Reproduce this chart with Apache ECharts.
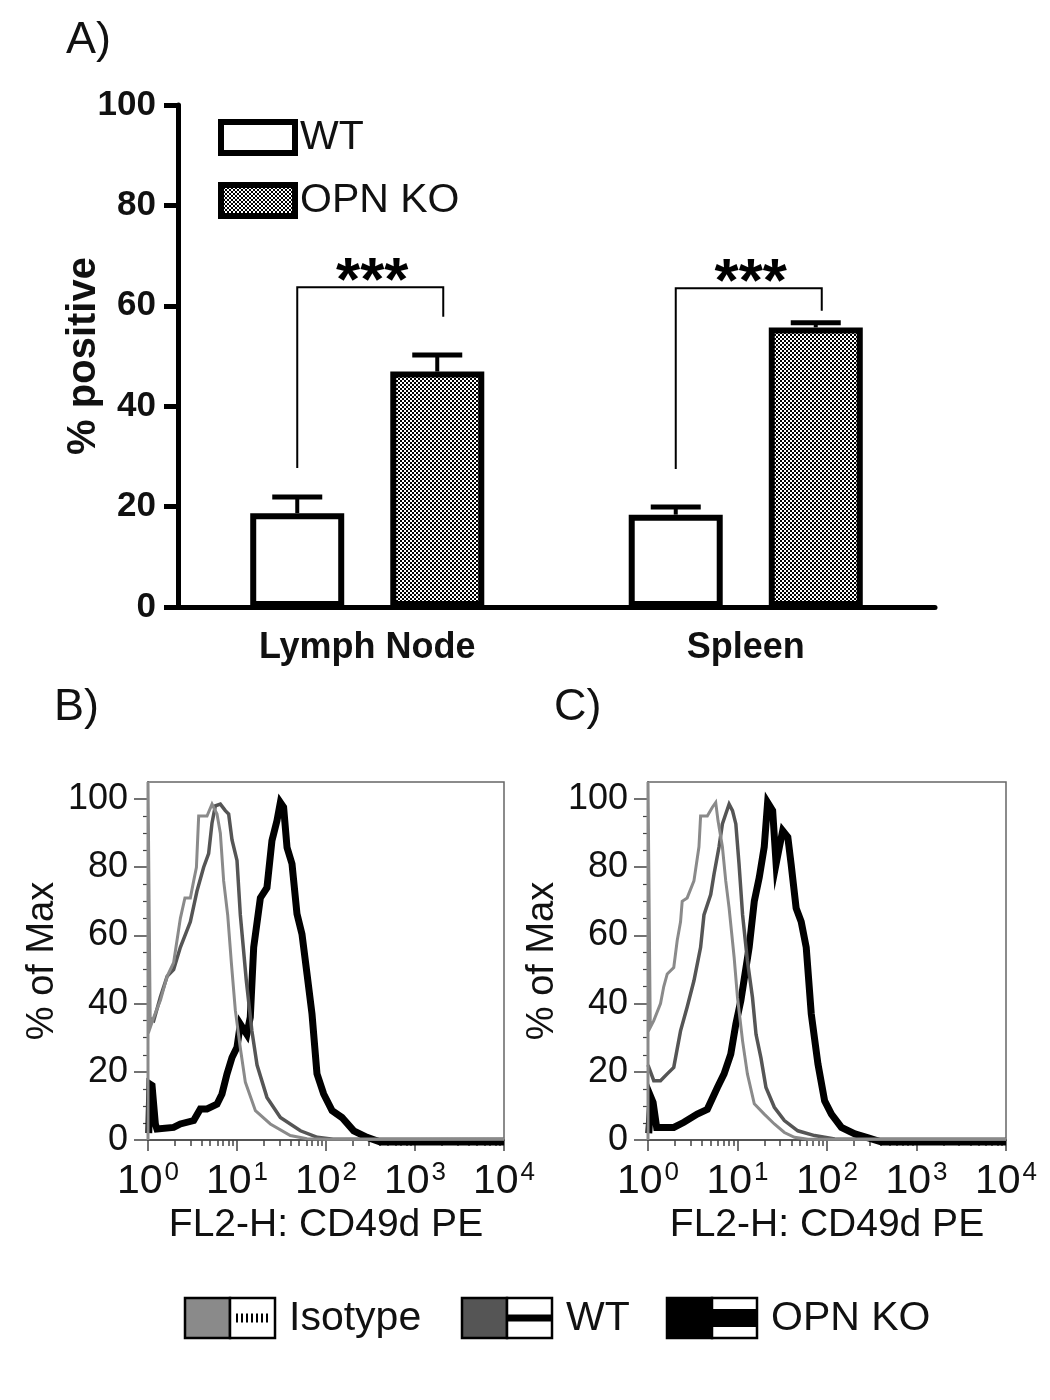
<!DOCTYPE html>
<html><head><meta charset="utf-8">
<script src="https://cdn.jsdelivr.net/npm/echarts@6/dist/echarts.min.js"></script>
<style>html,body{margin:0;padding:0;background:#fff}#c{width:1050px;height:1400px}</style>
</head><body><div id="c"></div>
<script>
// ---------- Panel A data ----------
const categories = ['Lymph Node', 'Spleen'];
const wtMean = [18.7, 18.4];
const wtErr = [3.2, 1.5];
const koMean = [46.9, 55.7];
const koErr = [3.3, 0.9];
const bracketLeftFoot = [27.7, 27.5];
const bracketTop = [63.7, 63.5];
const bracketRightFoot = [57.8, 59.0];
const sigLabels = ['***', '***'];
const barYTicks = [0, 20, 40, 60, 80, 100];

// ---------- Panels B / C data: [FL2-H intensity, % of Max] ----------
const histYLabels = [0, 20, 40, 60, 80, 100];
const histYMinor = [5, 10, 15, 25, 30, 35, 45, 50, 55, 65, 70, 75, 85, 90, 95];
const histDecades = [0, 1, 2, 3, 4];
const minorFactors = [2, 3, 4, 5, 6, 7, 8, 9];

const isoB = [[1,0],[1,105],[1.04,105],[1.06,33],[1.16,36],[1.38,41],[1.64,48],[1.94,52],[2.31,65],[2.6,71],[2.99,71],[3.26,76],[3.5,80],[3.71,95],[4.6,95],[5.24,98.5],[5.6,97],[5.96,95.6],[6.5,90],[7.08,76],[7.86,66],[8.64,52],[9.58,38],[10.9,27],[12.4,17],[16.1,8.6],[23.7,4.7],[39.7,1.3],[61.2,0.4],[100,0.2],[1000,0.2],[10000,0.3]];
const wtB = [[1,36],[1.16,35],[1.38,42],[1.64,48],[1.94,50],[2.31,56.5],[2.99,64],[3.55,73],[4.22,80],[4.8,84],[5.24,93],[5.71,98],[6.5,98.5],[7.39,96.6],[8.06,95.6],[8.79,88],[10.0,82],[10.9,66],[12.7,47],[14.7,32],[16.8,22],[21.7,12.5],[30.7,6.6],[51.6,2.7],[80,0.8],[120,0.2],[10000,0.2]];
const koB = [[1.02,2],[1.05,16.4],[1.11,16],[1.21,4.7],[1.26,3.2],[1.94,3.7],[2.31,4.7],[3.26,5.7],[3.87,9.1],[4.6,9.1],[5.96,10.5],[6.78,13.5],[7.72,19.4],[8.79,24.2],[10.0,27.2],[10.9,34],[12.9,31],[14.1,36],[15.4,56.5],[18.3,71],[21.7,74],[24.7,87.8],[28.1,93.6],[30.7,99],[33.4,97.6],[36.5,85.8],[41.5,81],[47.2,66.3],[53.7,60.4],[61.2,48.7],[69.6,37],[79.2,19.4],[94.1,13.5],[117,8.6],[151,6.6],[205,2.7],[289,0.8],[408,-0.6],[10000,-0.6]];

const isoC = [[1,0],[1,105],[1.04,105],[1.06,33],[1.16,35],[1.38,40],[1.5,45],[1.64,48.7],[1.94,50.6],[2.12,58.5],[2.31,64],[2.41,70],[2.74,71],[3.26,76],[3.71,86],[3.87,95],[4.6,95],[5.24,97.6],[5.71,99],[6.06,93.6],[6.78,86],[7.39,76],[8.06,68],[9.17,53.6],[10.0,41.8],[11.4,29],[12.9,19.4],[15.4,10.6],[19.9,7.6],[25.8,4.7],[33.4,2.2],[43.3,0.8],[61.2,0.2],[10000,0.2]];
const wtC = [[1,22],[1.16,17.4],[1.38,17.4],[1.64,19.4],[1.94,21.3],[2.31,32],[2.74,39],[3.26,46.7],[3.87,56.5],[4.22,66],[5.02,72],[5.47,78],[6.22,86],[6.78,92.7],[7.39,95.6],[8.06,98.5],[8.79,96.6],[9.58,92.7],[10.4,81],[11.4,66],[12.9,52.6],[14.7,41.8],[16.1,31],[18.3,24],[20.8,15.4],[25.8,9.6],[33.4,5.7],[47.2,2.7],[72.7,1.3],[122,0.3],[10000,0.2]];
const koC = [[1.02,2],[1.08,12.5],[1.14,11],[1.25,3.7],[1.94,3.7],[2.52,5.2],[3.55,7.6],[4.6,9],[5.96,15.4],[7.08,19.4],[8.41,25.2],[9.58,34],[10.9,40.9],[13.5,56.5],[15.4,70],[17.5,77],[19.9,86],[21.7,99],[24.7,96.6],[27.0,81],[29.4,86],[32.0,90.7],[36.5,88.8],[39.7,81],[45.2,68],[51.5,64],[58.6,56.5],[66.7,37],[79.2,22.3],[94.1,11.5],[112,7.6],[145,3.7],[205,1.8],[289,0.6],[408,-0.6],[10000,-0.6]];

const histLegend = ['Isotype', 'WT', 'OPN KO'];

// ---------- helpers ----------
const FONT = '"Liberation Sans", Arial, Helvetica, sans-serif';
const toLog = d => d.map(p => [Math.log10(p[0]), p[1]]);
const minorLogTicks = [];
[0, 1, 2, 3].forEach(k => minorFactors.forEach(f => minorLogTicks.push(Math.log10(f) + k)));

const pc = document.createElement('canvas');
pc.width = 4; pc.height = 4;
const g = pc.getContext('2d');
g.fillStyle = '#fff'; g.fillRect(0, 0, 4, 4);
g.fillStyle = '#000'; g.fillRect(0, 0, 2, 2); g.fillRect(2, 2, 2, 2);
const checker = { image: pc, repeat: 'repeat' };

const BAR_OFF = 70;

function errRender(offset) {
  return function (params, api) {
    const c = api.value(0), m = api.value(1), e = api.value(2);
    const p0 = api.coord([c, m]);
    const p1 = api.coord([c, m + e]);
    const x = p0[0] + offset;
    return { type: 'group', children: [
      { type: 'line', shape: { x1: x, y1: p0[1], x2: x, y2: p1[1] }, style: { stroke: '#000', lineWidth: 4 } },
      { type: 'line', shape: { x1: x - 25, y1: p1[1], x2: x + 25, y2: p1[1] }, style: { stroke: '#000', lineWidth: 5 } }
    ] };
  };
}

function bracketRender(params, api) {
  const c = api.value(0);
  const pl = api.coord([c, api.value(1)]);
  const pt = api.coord([c, api.value(2)]);
  const pr = api.coord([c, api.value(3)]);
  const xl = pl[0] - BAR_OFF, xr = pl[0] + BAR_OFF + 6;
  return { type: 'group', children: [
    { type: 'polyline', shape: { points: [[xl, pl[1]], [xl, pt[1]], [xr, pt[1]], [xr, pr[1]]] },
      style: { stroke: '#000', lineWidth: 2, fill: null } },
    { type: 'text', style: { text: sigLabels[params.dataIndex], x: (xl + xr) / 2 + 2, y: pt[1] - 4,
      align: 'center', verticalAlign: 'middle', font: 'bold 62px ' + FONT, fill: '#000' } }
  ] };
}

function histX(gridIndex, major) {
  if (major) {
    return {
      type: 'value', gridIndex, min: 0, max: 4, interval: 1, position: 'bottom',
      axisLine: { show: true, onZero: false, lineStyle: { color: '#444', width: 1.5 } },
      axisTick: { show: true, customValues: histDecades, length: 11, lineStyle: { color: '#444', width: 1.5 } },
      axisLabel: {
        customValues: histDecades, margin: 20, color: '#111',
        formatter: v => '{b|10}{s|' + v + '}',
        rich: {
          b: { fontSize: 41, fontFamily: FONT, color: '#111', lineHeight: 44 },
          s: { fontSize: 26, fontFamily: FONT, color: '#111', verticalAlign: 'top', lineHeight: 26, padding: [0, 0, 0, 2] }
        }
      },
      splitLine: { show: false },
      name: 'FL2-H: CD49d PE', nameLocation: 'middle', nameGap: 66,
      nameTextStyle: { fontSize: 39, fontFamily: FONT, color: '#111' }
    };
  }
  return {
    type: 'value', gridIndex, min: 0, max: 4, interval: 1, position: 'bottom',
    axisLine: { show: false }, axisLabel: { show: false }, splitLine: { show: false },
    axisTick: { show: true, customValues: minorLogTicks, length: 6, lineStyle: { color: '#444', width: 1.5 } }
  };
}
function histY(gridIndex, major) {
  if (major) {
    return {
      type: 'value', gridIndex, min: 0, max: 105, position: 'left',
      axisLine: { show: true, onZero: false, lineStyle: { color: '#444', width: 1.5 } },
      axisTick: { show: true, customValues: histYLabels, length: 14, lineStyle: { color: '#444', width: 1.5 } },
      axisLabel: { customValues: histYLabels, fontSize: 36, fontFamily: FONT, color: '#111', margin: 20 },
      splitLine: { show: false },
      name: '% of Max', nameLocation: 'middle', nameRotate: 90, nameGap: 86,
      nameTextStyle: { fontSize: 38, fontFamily: FONT, color: '#111' }
    };
  }
  return {
    type: 'value', gridIndex, min: 0, max: 105, position: 'left',
    axisLine: { show: false }, axisLabel: { show: false }, splitLine: { show: false },
    axisTick: { show: true, customValues: histYMinor, length: 5, lineStyle: { color: '#444', width: 1.2 } }
  };
}
function histLine(name, data, xi, yi, color, width, z) {
  return {
    type: 'line', name, data: toLog(data), xAxisIndex: xi, yAxisIndex: yi,
    showSymbol: false, symbol: 'none', clip: false, z,
    lineStyle: { color, width, join: 'miter' }, silent: true
  };
}

// bottom legend graphic
const legendGraphics = [];
const legX = [185, 462, 667];
const legFill = ['#8a8a8a', '#555555', '#000000'];
histLegend.forEach((name, i) => {
  const x0 = legX[i], y0 = 1298;
  legendGraphics.push({ type: 'rect', shape: { x: x0, y: y0, width: 45, height: 40 }, style: { fill: legFill[i], stroke: '#000', lineWidth: 2.5 } });
  legendGraphics.push({ type: 'rect', shape: { x: x0 + 45, y: y0, width: 45, height: 40 }, style: { fill: '#fff', stroke: '#000', lineWidth: 2.5 } });
  if (i === 0) {
    legendGraphics.push({ type: 'line', shape: { x1: x0 + 51, y1: y0 + 20, x2: x0 + 85, y2: y0 + 20 }, style: { stroke: '#000', lineWidth: 9, lineDash: [2, 3] } });
  } else {
    const h = i === 1 ? 7 : 18;
    legendGraphics.push({ type: 'rect', shape: { x: x0 + 45, y: y0 + 20 - h / 2, width: 45, height: h }, style: { fill: '#000' } });
  }
  legendGraphics.push({ type: 'text', style: { text: name, x: x0 + 104, y: y0 + 21, verticalAlign: 'middle', font: '41px ' + FONT, fill: '#111' } });
});

const chart = echarts.init(document.getElementById('c'), null, { renderer: 'canvas' });
chart.setOption({
  animation: false,
  backgroundColor: '#fff',
  title: [
    { text: 'A)', left: 66, top: 18, padding: 0, textStyle: { fontSize: 45, fontWeight: 'normal', color: '#111', fontFamily: FONT } },
    { text: 'B)', left: 54, top: 685, padding: 0, textStyle: { fontSize: 45, fontWeight: 'normal', color: '#111', fontFamily: FONT } },
    { text: 'C)', left: 554, top: 685, padding: 0, textStyle: { fontSize: 45, fontWeight: 'normal', color: '#111', fontFamily: FONT } }
  ],
  legend: {
    data: ['WT', 'OPN KO'], orient: 'vertical', left: 218, top: 117, padding: 0,
    itemWidth: 74, itemHeight: 31, itemGap: 22, icon: 'rect',
    itemStyle: { borderWidth: 6, borderColor: '#000' },
    textStyle: { fontSize: 41, fontFamily: FONT, color: '#111', lineHeight: 40 },
    selectedMode: false
  },
  grid: [
    { left: 178, top: 105, width: 757, height: 502 },
    { left: 148, top: 782, width: 356, height: 358, show: true, borderColor: '#666', borderWidth: 1.5, backgroundColor: 'transparent' },
    { left: 648, top: 782, width: 358, height: 358, show: true, borderColor: '#666', borderWidth: 1.5, backgroundColor: 'transparent' }
  ],
  xAxis: [
    {
      type: 'category', gridIndex: 0, data: categories,
      axisLine: { lineStyle: { color: '#000', width: 5 } },
      axisTick: { alignWithLabel: true, length: 12, lineStyle: { color: '#000', width: 5 } },
      axisLabel: { fontSize: 36, fontWeight: 'bold', fontFamily: FONT, color: '#111', margin: 23 }
    },
    histX(1, true), histX(1, false), histX(2, true), histX(2, false)
  ],
  yAxis: [
    {
      type: 'value', gridIndex: 0, min: 0, max: 100, interval: 20,
      axisLine: { show: true, lineStyle: { color: '#000', width: 5 } },
      axisTick: { show: true, length: 14, lineStyle: { color: '#000', width: 5 } },
      axisLabel: { fontSize: 35, fontWeight: 'bold', fontFamily: FONT, color: '#111', margin: 22 },
      splitLine: { show: false },
      name: '% positive', nameLocation: 'middle', nameRotate: 90, nameGap: 74, nameMoveOverlap: false,
      nameTextStyle: { fontSize: 40, fontWeight: 'bold', fontFamily: FONT, color: '#111' }
    },
    histY(1, true), histY(1, false), histY(2, true), histY(2, false)
  ],
  graphic: legendGraphics,
  series: [
    { type: 'bar', name: 'WT', data: wtMean, xAxisIndex: 0, yAxisIndex: 0, barWidth: 94, barGap: '49%',
      itemStyle: { color: '#fff', borderColor: '#000', borderWidth: 6 }, z: 3 },
    { type: 'bar', name: 'OPN KO', data: koMean, xAxisIndex: 0, yAxisIndex: 0, barWidth: 94, barGap: '49%',
      itemStyle: { color: checker, borderColor: '#000', borderWidth: 6 }, z: 3 },
    { type: 'custom', name: 'WT err', xAxisIndex: 0, yAxisIndex: 0, renderItem: errRender(-BAR_OFF),
      data: wtMean.map((m, i) => [i, m, wtErr[i]]), encode: { x: 0, y: 1 }, z: 2, silent: true },
    { type: 'custom', name: 'KO err', xAxisIndex: 0, yAxisIndex: 0, renderItem: errRender(BAR_OFF),
      data: koMean.map((m, i) => [i, m, koErr[i]]), encode: { x: 0, y: 1 }, z: 2, silent: true },
    { type: 'custom', name: 'sig', xAxisIndex: 0, yAxisIndex: 0, renderItem: bracketRender,
      data: categories.map((c, i) => [i, bracketLeftFoot[i], bracketTop[i], bracketRightFoot[i]]),
      encode: { x: 0, y: [1, 2, 3] }, z: 4, silent: true },
    histLine('OPN KO (B)', koB, 1, 1, '#000', 7, 3),
    histLine('WT (B)', wtB, 1, 1, '#555', 3.5, 4),
    histLine('Isotype (B)', isoB, 1, 1, '#8a8a8a', 3, 5),
    histLine('OPN KO (C)', koC, 3, 3, '#000', 7, 3),
    histLine('WT (C)', wtC, 3, 3, '#555', 3.5, 4),
    histLine('Isotype (C)', isoC, 3, 3, '#8a8a8a', 3, 5)
  ]
});
</script>
</body></html>
